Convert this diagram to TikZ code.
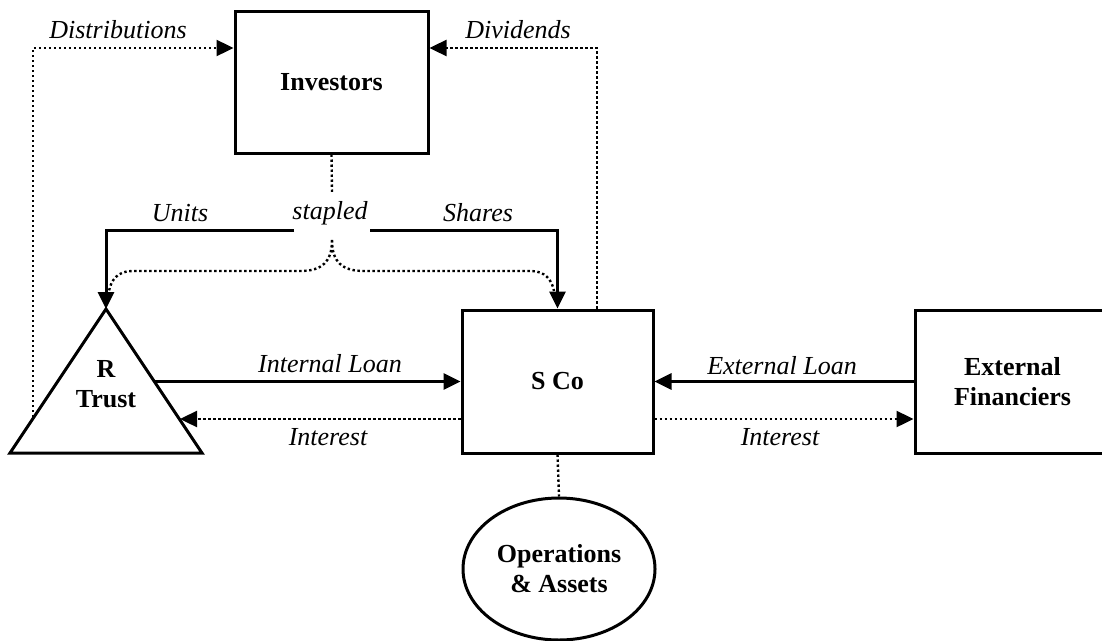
\documentclass[tikz,border=0pt]{standalone}
\usepackage{fontspec}
\setmainfont{Liberation Serif}
\usetikzlibrary{arrows.meta,shapes.geometric}
\newcommand{\bigsz}{\fontsize{26}{30}\selectfont}
\tikzset{
  box/.style={draw,line width=3pt,inner sep=0pt,font=\bigsz\bfseries,align=center},
  lab/.style={inner sep=0pt,font=\bigsz\itshape},
  tip/.style={-{Triangle[length=17pt,width=16pt]}},
  solidln/.style={line width=3pt},
  dotln/.style={line width=2.4pt,dash pattern=on 2.4pt off 2.6pt},
}
\begin{document}
\begin{tikzpicture}[x=1pt,y=-1pt]
\useasboundingbox (0,0) rectangle (1102,640);
\clip (0,0) rectangle (1102,640);
% nodes
\node[box,minimum width=193pt,minimum height=142pt] (inv) at (331.5,82) {Investors};
\node[box,minimum width=191pt,minimum height=143pt] (sco) at (557.5,381.5) {S Co};
\node[box,minimum width=195pt,minimum height=143pt] (ext) at (1012.5,381.5) {External\\Financiers};
\node[box,ellipse,minimum width=192pt,minimum height=142pt] (ops) at (559,569) {Operations\\\& Assets};
\coordinate (tA) at (106,309);
\coordinate (tR) at (202,453);
\coordinate (tL) at (10,453);
\draw[line width=3pt] (tA) -- (tR) -- (tL) -- cycle;
\node[inner sep=0pt,font=\bigsz\bfseries,align=center] (trust) at (106,384) {R\\Trust};
% helper coordinates
\coordinate (topy) at (0,48);
\coordinate (divx) at (597,0);
\coordinate (dL) at (33,417);
\coordinate (trR) at (155,381.5);
\coordinate (trI) at (180,419);
\coordinate (inty) at (0,419);
\coordinate (unitsE) at (294,230);
\coordinate (sharesW) at (370,230);
\coordinate (stapB) at (332,193);
% labels
\node[lab] (ldist) at (118,30) {Distributions};
\node[lab] (ldiv) at (518,30) {Dividends};
\node[lab] (lunits) at (180,213) {Units};
\node[lab] (lshares) at (478,213) {Shares};
\node[lab] (lstap) at (330,213) {stapled};
\node[lab] (lil) at (330,364) {Internal Loan};
\node[lab] (lint1) at (328,437) {Interest};
\node[lab] (lel) at (782,366) {External Loan};
\node[lab] (lint2) at (780,437) {Interest};
% connectors
\draw[dotln,tip] (dL) |- (inv.west |- topy);
\draw[dotln,tip] (sco.north -| divx) |- (inv.east |- topy);
\draw[dotln] (inv.south) -- (stapB);
\draw[solidln,tip] (unitsE) -| (tA);
\draw[solidln,tip] (sharesW) -| (sco.north);
\draw[dotln] (332,240) .. controls (332,262) and (322,271) .. (300,271) -- (132,271) .. controls (118,271) and (111,280) .. (109,291);
\draw[dotln] (332,240) .. controls (332,262) and (342,271) .. (364,271) -- (531,271) .. controls (545,271) and (552,280) .. (554,291);
\draw[solidln,tip] (trR) -- (sco.west);
\draw[dotln,tip] (sco.west |- inty) -- (trI);
\draw[solidln,tip] (ext.west) -- (sco.east);
\draw[dotln,tip] (sco.east |- inty) -- (ext.west |- inty);
\draw[dotln] (sco.south) -- (ops.north);
\end{tikzpicture}
\end{document}
